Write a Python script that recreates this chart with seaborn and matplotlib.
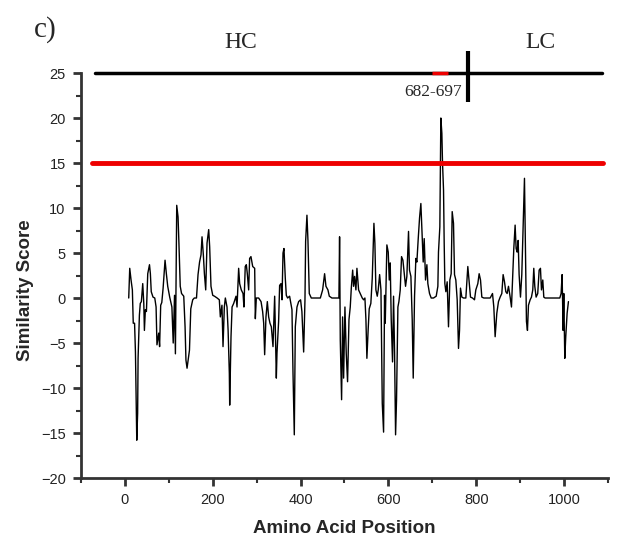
import numpy as np
import pandas as pd
import matplotlib
matplotlib.use('Agg')
import matplotlib.pyplot as plt
from matplotlib.ticker import MultipleLocator
import seaborn as sns

# similarity score along the sequence
position = [
    8.7, 11, 14, 17, 19, 22, 24, 27, 29, 30, 33, 35, 37.5, 40.6, 43, 44.4, 46.6, 49,
    52, 56, 58, 60, 64, 68, 71, 73, 77, 79, 81.5, 84, 87, 91.4, 94.4, 97.5, 102, 107,
    110, 113, 115, 118, 121, 123, 126, 129, 134, 137, 139, 141.5, 147, 150, 154.4, 158,
    163, 166.5, 170, 173.3, 175.6, 178.6, 181, 184, 187, 190.8, 193, 196, 200, 204, 210,
    215, 217.3, 221, 223.4, 226.4,
    228.7, 232.5, 235, 237.8, 238.6, 241.6, 244, 247.7, 253, 255.3, 259, 261.3, 265, 269,
    271, 274, 276.5, 278.7, 281.8, 284, 287, 291, 295.5, 297, 299.2, 304.5, 310, 313.6,
    316, 318.2, 321.2, 324.3, 327.3, 330.3, 333.4, 337.2, 341, 344.8, 346.3, 350, 352.3,
    355.4, 357.7, 360, 362.2, 365.2, 367.5, 370.5, 375, 380.4, 382.7, 385.7, 388, 391.8,
    395.6, 400, 403, 407, 410, 411.5, 414.5, 416.8, 419.8, 424.4, 430, 437.3, 445, 450.2,
    454.7, 457.8, 462.3, 465.4, 471.4, 477.5,
    482.8, 487.3, 488.8, 490.4, 493.4, 495.7, 498, 501, 504, 507, 510.2, 513.1, 515.5,
    518.6, 520.7, 523, 526, 528.3, 532.1, 535.9, 540.4, 543.5, 546.5, 548.8, 551, 554,
    556.3, 560, 563.2, 567, 569.2, 571.5, 574.6, 576.8, 580, 583, 586, 589, 591.2, 592.8,
    596.5, 599.6, 601.9, 604.1, 606.4, 609.4, 611.7, 614, 616.3, 618.5, 621.6, 623.9,
    626.9, 629.9, 633, 636, 639, 642, 645.8, 648, 651.2, 654.2, 656.5, 659.5, 662.5,
    664.8, 667.9, 670.9, 673.9, 677, 679.2, 681.5, 684.5, 687.6, 689.8, 693.6, 697.4,
    702.7, 708.8,
    712.6, 714, 717.1, 719.4, 721.7, 723.2, 725.5, 727, 728.5, 730.8, 733.8, 736.8, 739.9,
    742.9, 745.2, 748.2, 750.5, 753.5, 756.6, 759.6, 761.9, 764.1, 767.2, 771, 776.3,
    780.8, 783.9, 786.9, 791.5, 796, 799, 803.6, 806.6, 809.7, 812.7, 817.2, 824, 831.7,
    837, 840, 843, 846.8, 850.6, 854.4, 858.2, 861.2, 864.3, 867.3, 870.3, 873.4, 877.2,
    880.2, 883.2, 885.5, 888.5, 890.8, 893.1, 895.4, 897.6, 900.7, 903.7, 906.7, 909.8,
    912, 914.3, 916.6, 918.9, 922.7, 925.7, 928.7, 931, 933.3, 936.3, 940, 943.2, 946.2,
    948.5, 951.5, 953.8, 956.8, 968.2, 979.6, 990.2, 993.2, 995.5, 997.8, 999.3, 1001.6,
    1003.8, 1006.9, 1009.9,
]
score = [
    0.0, 3.3, 2.0, 0.9, -2.8, -2.8, -6.0, -15.8, -12.8, -6.7, -1.9, -0.6, -0.4, 1.6, -0.6,
    -3.6, -1.3, -1.5, 2.7, 3.7, 2.7, 0.7, 0.1, 0.0, -1.0, -5.2, -3.9, -5.4, -0.8, -0.5,
    1.1, 4.2, 2.7, 1.3, 0.1, -1.0, -5.0, 0.3, -6.2, 10.3, 9.0, 6.1, 1.3, 0.5, 0.2, -3.2,
    -6.9, -7.8, -5.8, -1.2, -0.2, 0.0, 0.0, 2.6, 4.0, 4.8, 6.8, 4.8, 2.7, 0.9, 6.1, 7.6,
    5.7, 1.3, 0.3, 0.2, 0.0, -0.2, -2.1, -0.8, -5.4, -1.0,
    0.0, -1.0, -3.6, -8.4, -11.9, -4.3, -1.0, -0.6, 0.2, -1.0, 3.3, 1.6, 0.9, 0.5, -1.0,
    3.5, 3.7, 2.7, 0.9, 4.4, 4.6, 3.5, 3.3, -2.3, 0.0, 0.0, -0.4, -1.5, -2.8, -6.3, -2.1,
    -0.4, -2.1, -2.8, -3.2, -5.4, 0.2, -8.9, -6.1, -2.6, 1.4, 1.6, -0.2, 5.0, 5.5, 2.2,
    0.3, 0.0, 0.2, -1.3, -8.2, -15.2, -3.2, -1.0, -0.4, -0.2, -1.5, -6.0, -0.2, 6.3, 9.2,
    6.4, 0.5, 0.0, 0.0, 0.0, 0.0, 0.9, 2.7, 1.3, 0.9, 0.2, 0.0, 0.0,
    0.0, 0.0, 6.8, -4.7, -11.3, -2.1, -8.9, -1.0, -6.2, -9.3, -2.4, -1.0, 1.1, 3.1, 1.3,
    2.4, 0.9, 3.3, 0.9, 0.5, 0.0, -0.2, 0.0, -2.4, -6.7, -3.4, -1.2, -0.6, 2.2, 8.3, 6.1,
    0.9, 0.2, 0.9, 2.6, 0.9, -11.7, -14.9, 0.3, -2.8, 5.9, 5.1, 2.0, 3.9, -2.4, -7.1, 0.2,
    -6.0, -15.2, -11.3, -1.0, -0.4, 0.9, 4.6, 4.2, 2.7, 1.3, 2.4, 7.4, 3.1, 2.4, -2.4,
    -8.9, 0.2, 4.4, 4.0, 6.6, 8.9, 10.5, 6.8, 4.0, 6.6, 2.0, 3.7, 1.6, 0.5, 0.0, 0.0, 0.2,
    1.3, 5.1, 7.9, 20.0, 18.3, 15.0, 12.0, 6.1, 1.6, 0.7, 1.8, -3.2, 2.0, 2.7, 9.6, 8.3,
    2.6, 2.0, -0.2, -5.6, -3.6, 1.1, 0.1, 0.0, 0.0, 3.5, 1.8, 0.1, 0.0, -0.2, 0.9, 1.6,
    2.7, 2.0, 0.1, 0.0, 0.0, 0.0, 0.5, -1.0, -4.3, -1.7, -0.4, 0.1, 0.5, 2.6, 1.8, 0.7,
    0.5, 1.3, 0.1, -1.0, 2.7, 5.5, 8.1, 5.5, 5.1, 6.4, 2.6, 0.1, 2.6, 7.9, 13.3, 5.3,
    -2.6, -3.6, -0.8, -0.2, 0.1, 0.9, 3.3, 1.3, 0.1, 0.5, 3.1, 3.3, 0.9, 2.0, 0.1, 0.0,
    0.0, 0.0, 0.0, 0.5, 2.6, -3.6, 0.5, -6.7, -4.3, -1.7, -0.4,
]

threshold = 15
hc_label, lc_label = 'HC', 'LC'
chain_break = 782          # HC / LC junction on the bar
epitope = (700, 736)       # highlighted stretch on the bar
epitope_label = '682-697'

df = pd.DataFrame({'pos': position, 'score': score})

sns.set_style('ticks')
plt.rcParams['font.family'] = ['Liberation Sans', 'DejaVu Sans']

fig = plt.figure(figsize=(6.22, 5.44), dpi=100)
ax = fig.add_axes([0.1302, 0.1213, 0.8473, 0.7445])

sns.lineplot(data=df, x='pos', y='score', color='black', lw=1.0,
             sort=False, estimator=None, ax=ax)

# threshold line
ax.axhline(threshold, xmin=0.021, xmax=0.99, color='#ee0000', lw=3.5)

# chain bar on top
ax.axhline(25, xmin=0.027, xmax=0.989, color='black', lw=2.5, clip_on=False)
ax.hlines(25, epitope[0], epitope[1], color='#ee0000', lw=2.5, clip_on=False, zorder=5)
ax.vlines(chain_break, 21.8, 27.4, color='black', lw=3, clip_on=False, zorder=6)
serif = ['Liberation Serif', 'DejaVu Serif']
ax.text(263, 28.4, hc_label, family=serif, fontsize=17, ha='center', va='center', clip_on=False)
ax.text(945, 28.4, lc_label, family=serif, fontsize=17, ha='center', va='center', clip_on=False)
ax.text(chain_break - 14, 22.9, epitope_label, family=serif, fontsize=12.5,
        ha='right', va='center', clip_on=False)
fig.text(0.072, 0.945, 'c)', family=serif, fontsize=21, ha='center', va='center')

ax.set_xlim(-100, 1100)
ax.set_ylim(-20, 25)
ax.xaxis.set_major_locator(MultipleLocator(200))
ax.xaxis.set_minor_locator(MultipleLocator(100))
ax.yaxis.set_major_locator(MultipleLocator(5))
ax.yaxis.set_minor_locator(MultipleLocator(2.5))
ax.set_xticks([0, 200, 400, 600, 800, 1000])
ax.tick_params(which='major', direction='out', length=6, width=2, color='#333',
               labelsize=10.5, labelcolor='#222', pad=5)
ax.tick_params(which='minor', direction='out', length=3.5, width=1.5, color='#333')

for side in ['top', 'right']:
    ax.spines[side].set_visible(False)
for side in ['left', 'bottom']:
    ax.spines[side].set_color('#333')
    ax.spines[side].set_linewidth(2)

ax.set_xlabel('Amino Acid Position', fontsize=13.5, fontweight='bold')
ax.set_ylabel('Similarity Score', fontsize=13.5, fontweight='bold')
ax.xaxis.set_label_coords(0.5, -0.104)
ax.yaxis.set_label_coords(-0.09, 0.464)

fig.savefig('out.png', dpi=100)
